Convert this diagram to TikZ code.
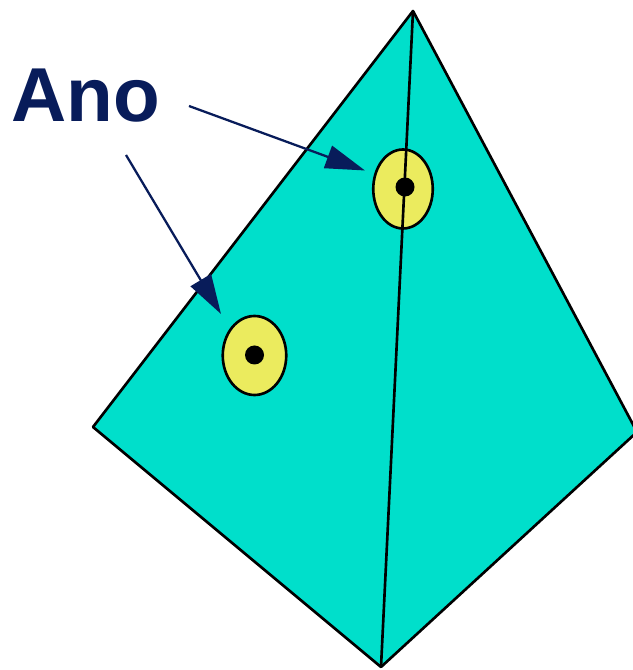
\documentclass[tikz,border=0pt]{standalone}
\usepackage{fontspec}
\setmainfont{Liberation Sans}
\usepackage{tikz}
\usetikzlibrary{shapes.geometric,arrows.meta,positioning}
\definecolor{teal}{RGB}{0,223,203}
\definecolor{lemon}{RGB}{235,235,94}
\definecolor{navy}{RGB}{8,28,90}
\tikzset{
  edge/.style={draw=black,line width=1.5pt,line join=round},
  pit/.style={draw=black,fill=lemon,ellipse,line width=1.5pt,inner sep=0pt},
  dot/.style={circle,fill=black,inner sep=0pt,minimum size=3.8mm},
  arr/.style={-{Triangle[length=7.9mm,width=4.7mm]},navy,line width=1.3pt},
  lbl/.style={font=\fontsize{43.5}{43.5}\selectfont\bfseries,text=navy,inner sep=0pt,anchor=base west}
}
\begin{document}
\begin{tikzpicture}
\useasboundingbox (0,0) rectangle (12.64,13.4);
\coordinate (top) at (8.26,13.18);
\coordinate (left) at (1.86,4.86);
\coordinate (bottom) at (7.62,0.06);
\coordinate (right) at (12.74,4.76);
\fill[teal] (top)--(left)--(bottom)--(right)--cycle;
\draw[edge] (top)--(left)--(bottom)--(right)--cycle;
\node[pit,minimum width=1.27cm,minimum height=1.58cm] (pitL) at (5.09,6.29) {};
\node[pit,minimum width=1.19cm,minimum height=1.58cm] (pitR) at (8.06,9.62) {};
\draw[edge] (top)--(bottom);
\node[dot] (dotL) at (5.09,6.3) {};
\node[dot] (dotR) at (8.1,9.66) {};
\node[lbl] (ano) at (0.22,10.96) {Ano};
\coordinate (fromR) at (3.78,11.28);
\coordinate (toR) at (7.3,9.99);
\coordinate (fromL) at (2.52,10.3);
\coordinate (toL) at (4.42,7.12);
\draw[arr] (fromR)--(toR);
\draw[arr] (fromL)--(toL);
\end{tikzpicture}
\end{document}
